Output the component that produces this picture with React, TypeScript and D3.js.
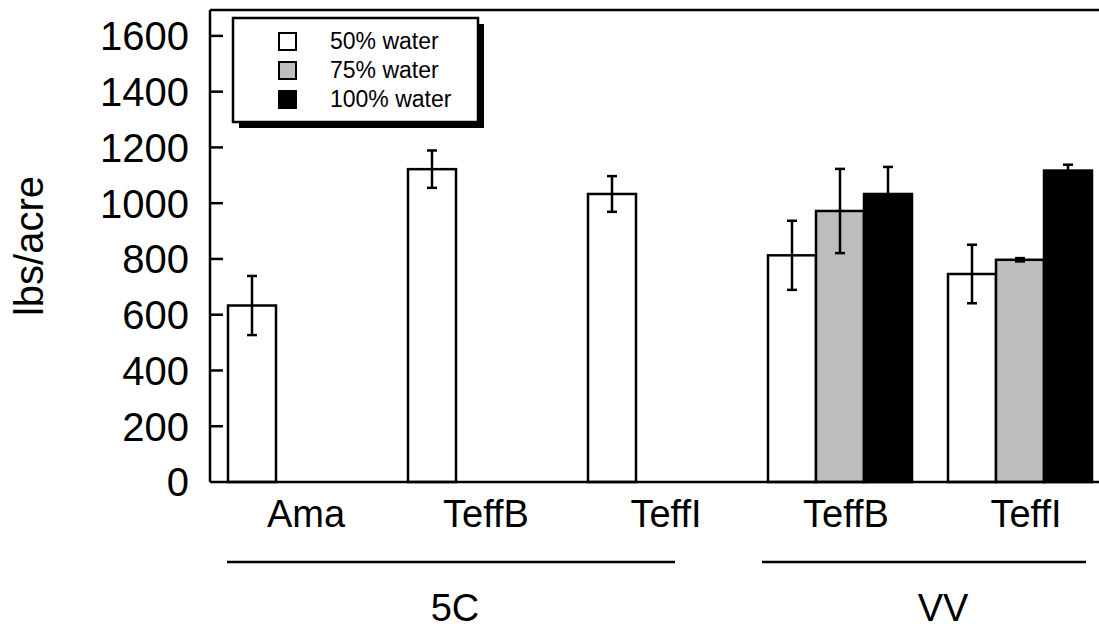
import React from "react";
import * as d3 from "d3";

// chart values
const groupIds = ["5C-Ama", "5C-TeffB", "5C-TeffI", "VV-TeffB", "VV-TeffI"];
const groupLabels = ["Ama", "TeffB", "TeffI", "TeffB", "TeffI"];
const seriesNames = ["50% water", "75% water", "100% water"];
const seriesFill = ["#ffffff", "#bdbdbd", "#000000"];
const water50 = [633, 1122, 1033, 813, 746];
const water75 = [null, null, null, 972, 797];
const water100 = [null, null, null, 1033, 1117];
const err50 = [106, 67, 64, 124, 105];
const err75 = [null, null, null, 151, 6];
const err100 = [null, null, null, 97, 21];
const yTicks = [0, 200, 400, 600, 800, 1000, 1200, 1400, 1600];
const sites = ["5C", "VV"];

const W = 1099;
const H = 630;
const left = 210;
const top = 10;
const bottom = 482;
const font = "'Liberation Sans', Arial, Helvetica, sans-serif";

export default function App() {
  const x = d3
    .scaleBand<string>()
    .domain(groupIds)
    .range([left, 1110])
    .paddingInner(0.2)
    .paddingOuter(0.1);
  const xInner = d3
    .scaleBand<number>()
    .domain([0, 1, 2])
    .range([0, x.bandwidth()]);
  const y = d3.scaleLinear().domain([0, 1700]).range([bottom, 8]);

  const values = [water50, water75, water100];
  const errors = [err50, err75, err100];

  const bars: { gi: number; si: number; v: number; e: number | null }[] = [];
  groupIds.forEach((g, gi) => {
    values.forEach((arr, si) => {
      const v = arr[gi];
      if (v != null) bars.push({ gi, si, v, e: errors[si][gi] });
    });
  });

  // site underline extents (annotation layout)
  const siteLines = [
    { x1: 227, x2: 675, label: 455 },
    { x1: 762, x2: 1086, label: 943 },
  ];

  return (
    <svg
      width={W}
      height={H}
      style={{ position: "absolute", left: 0, top: 0, background: "#fff" }}
      fontFamily={font}
    >
      {/* bars */}
      {bars.map((b, i) => {
        const bx = (x(groupIds[b.gi]) ?? 0) + (xInner(b.si) ?? 0);
        const bw = xInner.bandwidth();
        return (
          <rect
            key={i}
            x={bx}
            y={y(b.v)}
            width={bw}
            height={bottom - y(b.v)}
            fill={seriesFill[b.si]}
            stroke="#000"
            strokeWidth={2.5}
          />
        );
      })}
      {/* error bars */}
      {bars.map((b, i) => {
        if (b.e == null) return null;
        const cx =
          (x(groupIds[b.gi]) ?? 0) + (xInner(b.si) ?? 0) + xInner.bandwidth() / 2;
        const y1 = y(b.v + b.e);
        const y2 = y(b.v - b.e);
        return (
          <g key={"e" + i} stroke="#000" strokeWidth={2.5}>
            <line x1={cx} x2={cx} y1={y1} y2={y2} />
            <line x1={cx - 5} x2={cx + 5} y1={y1} y2={y1} />
            <line x1={cx - 5} x2={cx + 5} y1={y2} y2={y2} />
          </g>
        );
      })}

      {/* frame / axes */}
      <line x1={left} x2={W} y1={top} y2={top} stroke="#000" strokeWidth={2.5} />
      <line x1={left} x2={left} y1={top} y2={bottom} stroke="#000" strokeWidth={2.5} />
      <line x1={left} x2={W} y1={bottom} y2={bottom} stroke="#000" strokeWidth={2.5} />
      {yTicks.map((t) => (
        <g key={t}>
          {t > 0 && (
            <line x1={left} x2={left + 13} y1={y(t)} y2={y(t)} stroke="#000" strokeWidth={2.5} />
          )}
          <text
            x={189}
            y={y(t)}
            dy="0.36em"
            textAnchor="end"
            fontSize={40}
          >
            {t}
          </text>
        </g>
      ))}
      <text
        transform={`translate(43,246) rotate(-90)`}
        textAnchor="middle"
        fontSize={40}
      >
        lbs/acre
      </text>

      {/* category labels */}
      {groupIds.map((g, i) => (
        <text
          key={g}
          x={(x(g) ?? 0) + x.bandwidth() / 2 + 6}
          y={527}
          textAnchor="middle"
          fontSize={38}
        >
          {groupLabels[i]}
        </text>
      ))}
      {siteLines.map((s, i) => (
        <g key={sites[i]}>
          <line x1={s.x1} x2={s.x2} y1={562} y2={562} stroke="#000" strokeWidth={2.5} />
          <text x={s.label} y={621} textAnchor="middle" fontSize={38}>
            {sites[i]}
          </text>
        </g>
      ))}

      {/* legend */}
      <rect x={239} y={24} width={245} height={104} fill="#000" />
      <rect x={233} y={18} width={245} height={104} fill="#fff" stroke="#000" strokeWidth={2.5} />
      {seriesNames.map((n, i) => (
        <g key={n}>
          <rect
            x={279}
            y={33 + i * 29}
            width={17}
            height={17}
            fill={seriesFill[i]}
            stroke="#000"
            strokeWidth={2}
          />
          <text x={330} y={49 + i * 29} fontSize={23}>
            {n}
          </text>
        </g>
      ))}
    </svg>
  );
}
